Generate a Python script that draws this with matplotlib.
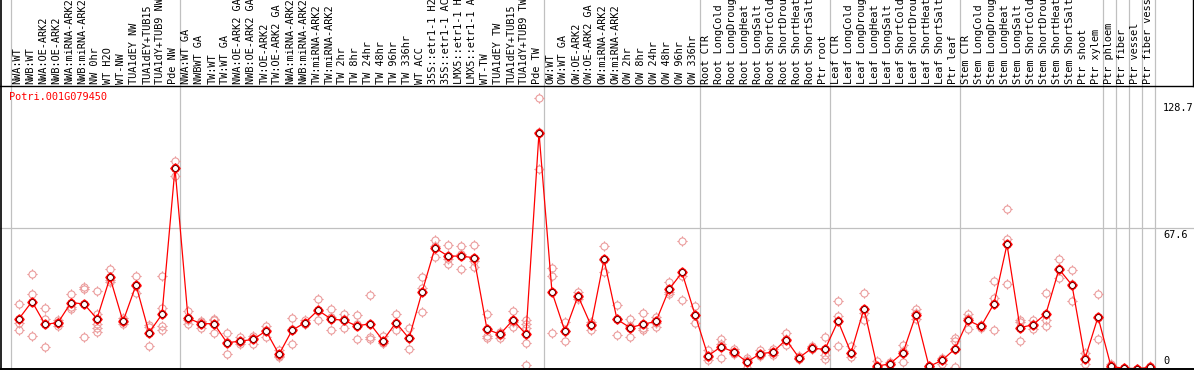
import numpy as np
import matplotlib
matplotlib.use("Agg")
import matplotlib.pyplot as plt
from matplotlib.path import Path
from matplotlib.transforms import blended_transform_factory

# sample labels, one list per group (group boundaries get a grey separator)
group_labels = [
    ["NWA:WT", "NWB:WT", "NWA:OE-ARK2", "NWB:OE-ARK2", "NWA:miRNA-ARK2", "NWB:miRNA-ARK2",
     "NW 0hr", "WT H2O", "WT-NW", "TUA1dEY NW", "TUA1dEY+TUB15", "TUA1dY+TUB9 NW", "Pde NW"],
    ["NWA:WT GA", "NWBWT GA", "TW:WT", "TW:WT GA", "NWA:OE-ARK2 GA", "NWB:OE-ARK2 GA",
     "TW:OE-ARK2", "TW:OE-ARK2 GA", "NWA:miRNA-ARK2", "NWB:miRNA-ARK2", "TW:miRNA-ARK2",
     "TW:miRNA-ARK2", "TW 2hr", "TW 8hr", "TW 24hr", "TW 48hr", "TW 96hr", "TW 336hr",
     "WT ACC", "35S::etr1-1 H2", "35S::etr1-1 AC", "LMX5::etr1-1 H", "LMX5::etr1-1 A",
     "WT-TW", "TUA1dEY TW", "TUA1dEY+TUB15", "TUA1dY+TUB9 TW", "Pde TW"],
    ["OW:WT", "OW:WT GA", "OW:OE-ARK2", "OW:OE-ARK2 GA", "OW:miRNA-ARK2", "OW:miRNA-ARK2",
     "OW 2hr", "OW 8hr", "OW 24hr", "OW 48hr", "OW 96hr", "OW 336hr"],
    ["Root CTR", "Root LongCold", "Root LongDroug", "Root LongHeat", "Root LongSalt",
     "Root ShortCold", "Root ShortDrou", "Root ShortHeat", "Root ShortSalt", "Ptr root"],
    ["Leaf CTR", "Leaf LongCold", "Leaf LongDroug", "Leaf LongHeat", "Leaf LongSalt",
     "Leaf ShortCold", "Leaf ShortDrou", "Leaf ShortHeat", "Leaf ShortSalt", "Ptr leaf"],
    ["Stem CTR", "Stem LongCold", "Stem LongDroug", "Stem LongHeat", "Stem LongSalt",
     "Stem ShortCold", "Stem ShortDrou", "Stem ShortHeat", "Stem ShortSalt", "Ptr shoot",
     "Ptr xylem"],
    ["Ptr phloem"],
    ["Ptr fiber"],
    ["Ptr vessel"],
    ["Ptr fiber vess"],
]

# mean expression per sample
means = [
    24.0, 32.3, 21.3, 22.1, 31.8, 31.1, 24.0, 43.9, 22.7, 40.2, 17.3, 26.1, 96.6,
    24.3, 21.6, 21.6, 12.4, 13.2, 14.0, 18.1, 6.8, 18.4, 22.1, 28.1, 23.9, 23.2, 20.5,
    21.6, 13.5, 22.1, 14.5, 36.8, 58.2, 54.2, 54.2, 53.4, 18.9, 16.5, 23.4, 16.5, 113.7,
    36.8, 17.9, 35.0, 20.8, 52.6, 23.7, 19.7, 21.3, 22.7, 38.1, 46.3, 26.0,
    6.1, 10.5, 7.9, 3.1, 7.1, 7.9, 13.9, 5.2, 9.8, 9.2,
    22.9, 7.6, 28.9, 1.1, 2.3, 7.6, 26.0, 1.0, 3.9, 9.5,
    23.2, 20.3, 31.3, 59.8, 19.7, 21.1, 26.5, 47.9, 40.2, 4.7, 24.8,
    1.0, 0.1, 0.0, 0.5,
]

# individual replicates per sample
replicates = [
    [31.3, 22.1, 18.4], [45.5, 35.8, 15.5], [29.4, 24.0, 10.2], [23.6, 22.4, 20.3],
    [35.8, 29.7, 28.9], [38.5, 39.5, 15.0], [37.3, 26.4, 21.6, 19.7, 17.6],
    [47.9, 42.6, 41.8], [24.3, 21.6, 22.2], [44.5, 36.4, 39.7], [20.8, 11.0, 20.1],
    [44.5, 29.0, 20.3, 18.7], [100.2, 96.6, 92.9],
    [27.7, 23.6, 21.6], [23.1, 19.4, 22.3], [24.0, 23.3, 17.1], [17.3, 12.8, 7.1],
    [15.1, 12.7, 11.8], [15.5, 14.6, 12.0], [20.5, 18.7, 15.1], [8.7, 6.2, 5.5],
    [24.5, 19.1, 11.6], [23.2, 21.6, 21.5], [33.4, 27.7, 23.2], [28.5, 24.8, 18.4],
    [26.1, 23.8, 19.7], [25.6, 21.6, 14.0], [35.3, 15.1, 14.3], [15.6, 12.4, 12.5],
    [26.1, 21.8, 18.4], [19.7, 14.6, 9.2], [43.9, 39.0, 27.1], [61.9, 59.1, 53.6],
    [59.5, 53.0, 50.2], [59.0, 55.4, 48.2], [59.5, 51.7, 49.0], [26.4, 15.5, 14.9],
    [17.6, 16.0, 14.9], [27.6, 22.6, 20.0], [23.2, 21.3, 19.7, 12.4, 1.8],
    [130.2, 114.1, 96.4],
    [48.5, 44.7, 17.3], [22.4, 17.9, 13.5], [36.9, 33.6, 34.5], [22.3, 21.6, 18.6],
    [59.0, 52.2, 46.6], [30.8, 24.0, 16.3], [23.7, 20.3, 15.1], [26.6, 19.7, 18.7],
    [24.9, 20.2, 22.1], [41.5, 36.9, 36.1], [61.4, 44.6, 32.9], [30.0, 26.0, 22.1],
    [8.7, 5.5, 4.1], [14.4, 12.0, 5.2], [9.5, 7.5, 6.9], [5.0, 3.9, 0.3], [8.7, 6.4, 6.2],
    [9.5, 7.6, 6.4], [17.3, 14.0, 11.1], [6.0, 4.8, 4.6], [10.8, 9.2, 9.4],
    [15.1, 6.3, 4.7],
    [32.4, 25.2, 11.0], [10.7, 7.5, 5.5], [36.3, 27.0, 23.2], [3.5, 0.9, 0.6],
    [3.1, 2.4, 1.5], [11.1, 8.5, 3.1], [28.9, 27.0, 23.9], [1.0, 0.8, 1.2],
    [5.0, 4.0, 2.0], [14.8, 13.2, 0.6],
    [26.1, 24.3, 19.2], [21.0, 20.5, 19.7], [42.2, 33.8, 18.4], [76.8, 62.4, 40.6],
    [23.2, 22.4, 13.5], [23.2, 21.6, 19.2], [36.6, 23.2, 20.5], [52.6, 47.5, 43.4],
    [47.3, 40.9, 32.4], [7.3, 5.0, 2.4], [35.7, 24.3, 14.4],
    [2.0, 0.8, 0.5], [0.1, 0.0, 0.1], [0.0, 0.0, 0.0], [1.0, 0.3, 0.2],
]

gene_name = "Potri.001G079450"
right_ticks = [0, 67.6, 128.7]

W, H = 1194, 370
STEP = 13.0          # px between samples
X0 = 19.0            # px of first sample
Y0 = 368.5           # px row of value 0
PX_PER_UNIT = 2.074

MONO = "DejaVu Sans Mono"
FS = 7.4


def ring_marker():
    # circle with four little ticks sticking out
    circ = Path.unit_circle()
    r0, r1 = 1.0, 1.45
    ticks = Path([(0, r0), (0, r1), (0, -r0), (0, -r1),
                  (r0, 0), (r1, 0), (-r0, 0), (-r1, 0)],
                 [Path.MOVETO, Path.LINETO] * 4)
    return Path.make_compound_path(circ, ticks)


labels = [lab for grp in group_labels for lab in grp]
n = len(labels)
x = np.arange(n)

fig = plt.figure(figsize=(W / 100, H / 100), dpi=100)
ax = fig.add_axes([0, 0, 1, 1])
ax.set_xlim(-X0 / STEP, (W - X0) / STEP)
ax.set_ylim(-(H - Y0) / PX_PER_UNIT, Y0 / PX_PER_UNIT)
ax.axis("off")

fx = lambda px: px / W
fy = lambda py: 1 - py / H
data_x_axes_y = blended_transform_factory(ax.transData, ax.transAxes)
axes_x_data_y = blended_transform_factory(ax.transAxes, ax.transData)

# grey group separators
ends = np.cumsum([len(g) for g in group_labels]) - 1
for b in np.concatenate([[-1], ends]):
    ax.axvline(b + 0.385, color="#c0c0c0", lw=0.9, zorder=1)

# grid line at middle tick
ax.axhline(right_ticks[1], color="#c0c0c0", lw=0.9, zorder=1)

# frame lines
ax.plot([fx(0.8), fx(0.8)], [0, 1], color="black", lw=1.2, transform=ax.transAxes, zorder=6)
ax.plot([0, 1], [fy(85.5), fy(85.5)], color="black", lw=1.0, transform=ax.transAxes, zorder=6)
ax.plot([0, 1], [fy(369.3), fy(369.3)], color="black", lw=1.4, transform=ax.transAxes, zorder=6)
ax.plot([fx(1193.3), fx(1193.3)], [fy(85.5), 1], color="black", lw=1.0,
        transform=ax.transAxes, zorder=6)

# replicate points
mk = ring_marker()
rx = [i for i, reps in enumerate(replicates) for _ in reps]
ry = [v for reps in replicates for v in reps]
ax.plot(rx, ry, linestyle="none", marker=mk, markersize=7.4, markerfacecolor="none",
        markeredgecolor="#eb9c9c", markeredgewidth=0.8, zorder=2)

# mean line + points
ax.plot(x, means, color="red", lw=0.9, zorder=3)
ax.plot(x, means, linestyle="none", marker=mk, markersize=7.4, markerfacecolor="white",
        markeredgecolor="red", markeredgewidth=1.2, zorder=4)
ax.plot(x, means, linestyle="none", marker="o", markersize=4.2, markerfacecolor="none",
        markeredgecolor="#400000", markeredgewidth=0.5, zorder=5)

# sample labels (rotated, in the top band)
for i, lab in enumerate(labels):
    ax.text(i - 0.12, fy(83.5), lab, rotation=90, ha="center", va="bottom",
            family=MONO, fontsize=FS, color="black", transform=data_x_axes_y,
            clip_on=False)

# gene name
ax.text(fx(9), fy(97), gene_name, ha="left", va="center", family=MONO,
        fontsize=FS, color="red", transform=ax.transAxes)

# value labels on the right
for t in right_ticks:
    va = "bottom" if t == 0 else "top"
    off = 1.2 if t == 0 else -0.6
    ax.text(fx(1163), t + off, f"{t:g}", ha="left", va=va, family=MONO,
            fontsize=FS, color="black", transform=axes_x_data_y)

fig.savefig("out.png", dpi=100, facecolor="white")
plt.close(fig)
print("Saved out.png")
